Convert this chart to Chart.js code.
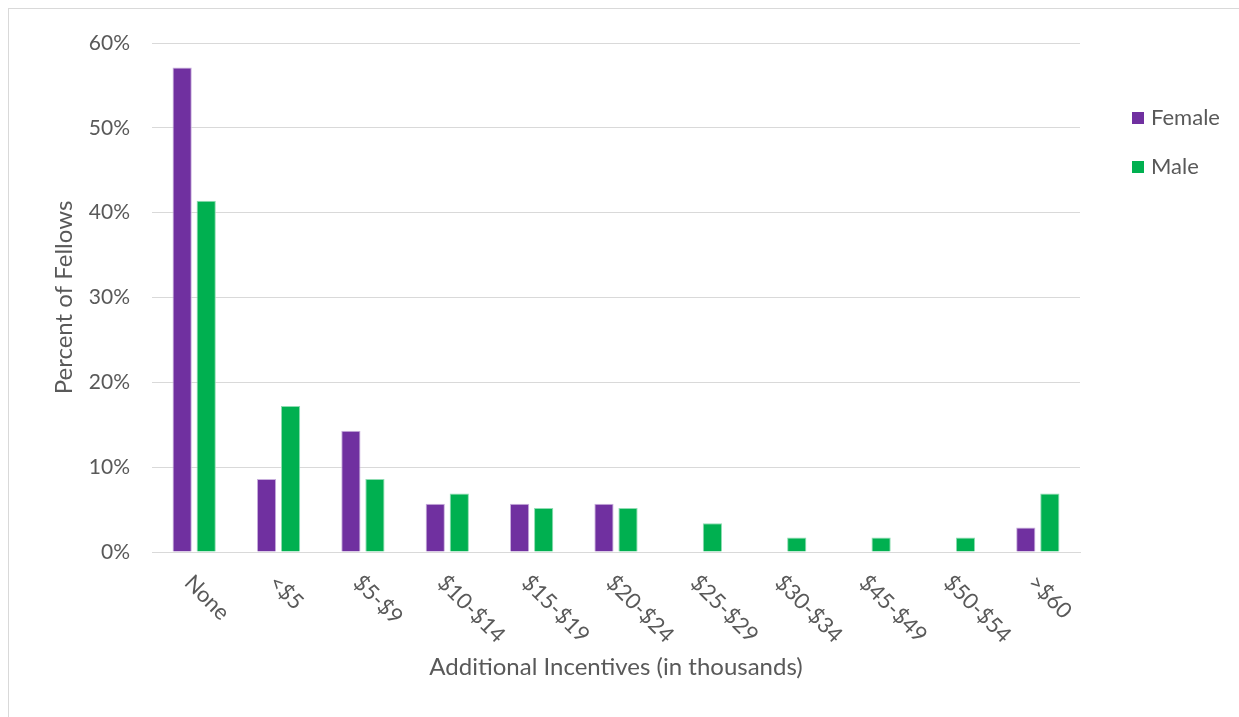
<!DOCTYPE html>
<html>
<head>
<meta charset="utf-8">
<script src="https://cdn.jsdelivr.net/npm/chart.js"></script>
<style>
  html, body { margin: 0; padding: 0; background: #fff; }
  #wrap { position: relative; width: 1239px; height: 717px; overflow: hidden; }
  #frame { position: absolute; left: 8px; top: 8px; width: 1300px; height: 800px;
           border-left: 1px solid #d9d9d9; border-top: 1px solid #d9d9d9; }
  #chart { position: absolute; left: 0; top: 0; }
  .legend { position: absolute; left: 1132px; font-family: Lato, sans-serif; font-size: 22px; color: #595959; }
  .legend span.box { display: inline-block; width: 12px; height: 12px; margin-right: 7px; vertical-align: 1px; }
</style>
</head>
<body>
<div id="wrap">
  <div id="frame"></div>
  <canvas id="chart" width="1239" height="717"></canvas>
  <div class="legend" id="legF" style="top:103px"><span class="box" style="background:#7030A0"></span>Female</div>
  <div class="legend" id="legM" style="top:152px"><span class="box" style="background:#00B050"></span>Male</div>
</div>
<script>
const categories = ["None", "<$5", "$5-$9", "$10-$14", "$15-$19", "$20-$24", "$25-$29", "$30-$34", "$45-$49", "$50-$54", ">$60"];
const femaleValues = [57.1, 8.6, 14.3, 5.7, 5.7, 5.7, null, null, null, null, 2.9];
const maleValues = [41.4, 17.2, 8.6, 6.9, 5.2, 5.2, 3.4, 1.7, 1.7, 1.7, 6.9];
const yTicks = [0, 10, 20, 30, 40, 50, 60];

const textColor = "#595959";
const fontFamily = "Lato, sans-serif";

// draw the category labels turned 45deg clockwise, like the original
const slantedLabels = {
    id: "slantedLabels",
    afterDraw(chart) {
        const ctx = chart.ctx;
        const xs = chart.scales.x;
        ctx.save();
        ctx.fillStyle = textColor;
        ctx.font = "22px " + fontFamily;
        ctx.textAlign = "left";
        ctx.textBaseline = "middle";
        chart.data.labels.forEach((lab, i) => {
            const x = xs.getPixelForValue(i);
            ctx.save();
            ctx.translate(x - 6, xs.top + 27);
            ctx.rotate(Math.PI / 4);
            ctx.fillText(lab, 0, 0);
            ctx.restore();
        });
        ctx.restore();
    }
};

new Chart(document.getElementById("chart"), {
    type: "bar",
    data: {
        labels: categories,
        datasets: [
            { label: "Female", data: femaleValues, backgroundColor: "#7030A0", borderColor: "#c9b0dd", borderWidth: 1 },
            { label: "Male", data: maleValues, backgroundColor: "#00B050", borderColor: "#8fdcb2", borderWidth: 1 },
        ],
    },
    options: {
        responsive: false,
        animation: false,
        layout: { padding: { top: 43, right: 159, left: 0, bottom: 0 } },
        datasets: { bar: { categoryPercentage: 0.57, barPercentage: 0.8 } },
        plugins: { legend: { display: false }, tooltip: { enabled: false } },
        scales: {
            x: {
                grid: { display: false },
                border: { color: "#d9d9d9" },
                ticks: { display: false },
                afterFit: (s) => { s.height = 165; },
                title: {
                    display: true,
                    text: "Additional Incentives (in thousands)",
                    color: textColor,
                    font: { family: fontFamily, size: 24 },
                    padding: { top: 0, bottom: 35 },
                },
            },
            y: {
                min: 0,
                max: 60,
                afterBuildTicks: (s) => { s.ticks = yTicks.map(v => ({ value: v })); },
                grid: { color: "#d9d9d9", drawTicks: false },
                border: { display: false },
                ticks: {
                    padding: 22,
                    color: textColor,
                    font: { family: fontFamily, size: 21 },
                    callback: (v) => v + "%",
                },
                afterFit: (s) => { s.width = 152; },
                title: {
                    display: true,
                    text: "Percent of Fellows",
                    color: textColor,
                    font: { family: fontFamily, size: 24 },
                    padding: { top: 50, bottom: 0 },
                },
            },
        },
    },
    plugins: [slantedLabels],
});
</script>
</body>
</html>
